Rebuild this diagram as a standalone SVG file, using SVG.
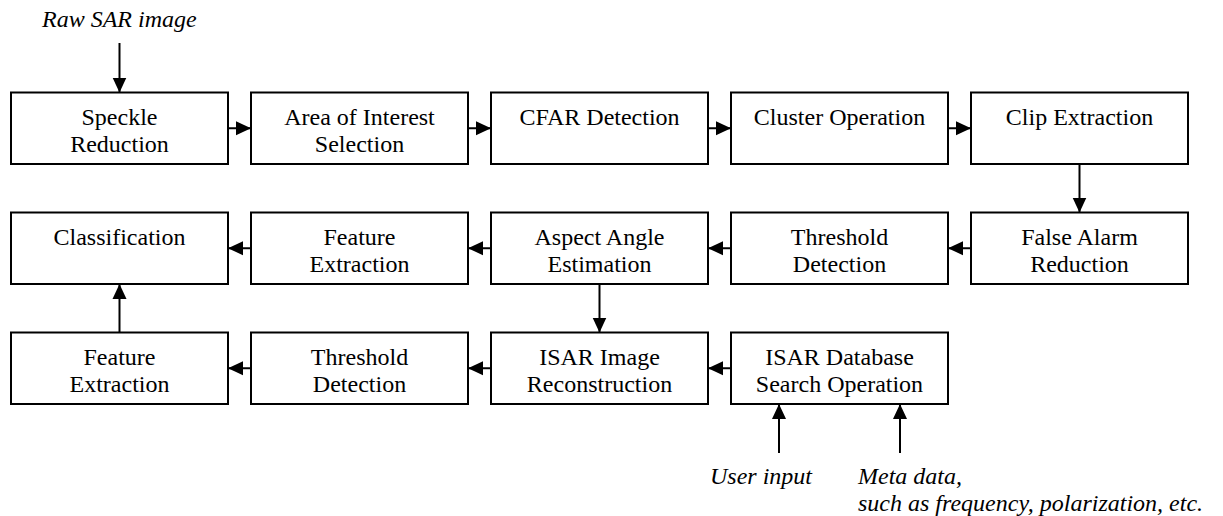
<svg xmlns="http://www.w3.org/2000/svg" width="1223" height="516" viewBox="0 0 1223 516">
<style>
.box{fill:#fff;stroke:#000;stroke-width:2}
text{font-family:'Liberation Serif', serif;font-size:24px;fill:#000}
.t{text-anchor:middle}
.i{font-style:italic}
.c{stroke:#000;stroke-width:2;fill:none;marker-end:url(#ah)}
</style>
<defs>
<marker id="ah" markerUnits="userSpaceOnUse" markerWidth="16" markerHeight="16" refX="15" refY="8" orient="auto" viewBox="0 0 16 16">
<path d="M0,1 L15,8 L0,15 Z" fill="#000"/>
</marker>
</defs>
<rect width="1223" height="516" fill="#fff"/>
<g id="connectors">
<line class="c" x1="119.5" y1="43" x2="119.5" y2="92.5"/>
<line class="c" x1="228" y1="128.25" x2="251" y2="128.25"/>
<line class="c" x1="468" y1="128.25" x2="491" y2="128.25"/>
<line class="c" x1="708" y1="128.25" x2="731" y2="128.25"/>
<line class="c" x1="948" y1="128.25" x2="971" y2="128.25"/>
<line class="c" x1="1079.5" y1="164" x2="1079.5" y2="212.5"/>
<line class="c" x1="971" y1="248.25" x2="948" y2="248.25"/>
<line class="c" x1="731" y1="248.25" x2="708" y2="248.25"/>
<line class="c" x1="491" y1="248.25" x2="468" y2="248.25"/>
<line class="c" x1="251" y1="248.25" x2="228" y2="248.25"/>
<line class="c" x1="599.5" y1="284" x2="599.5" y2="332.5"/>
<line class="c" x1="731" y1="368.25" x2="708" y2="368.25"/>
<line class="c" x1="491" y1="368.25" x2="468" y2="368.25"/>
<line class="c" x1="251" y1="368.25" x2="228" y2="368.25"/>
<line class="c" x1="119.5" y1="332.5" x2="119.5" y2="284"/>
<line class="c" x1="779" y1="453" x2="779" y2="404"/>
<line class="c" x1="900" y1="453" x2="900" y2="404"/>
</g>
<g id="speckle"><rect class="box" x="11" y="92.5" width="217" height="71.5"/><text class="t" x="119.5" y="124.5">Speckle</text><text class="t" x="119.5" y="152">Reduction</text></g>
<g id="aoi"><rect class="box" x="251" y="92.5" width="217" height="71.5"/><text class="t" x="359.5" y="124.5">Area of Interest</text><text class="t" x="359.5" y="152">Selection</text></g>
<g id="cfar"><rect class="box" x="491" y="92.5" width="217" height="71.5"/><text class="t" x="599.5" y="124.5">CFAR Detection</text></g>
<g id="cluster"><rect class="box" x="731" y="92.5" width="217" height="71.5"/><text class="t" x="839.5" y="124.5">Cluster Operation</text></g>
<g id="clip"><rect class="box" x="971" y="92.5" width="217" height="71.5"/><text class="t" x="1079.5" y="124.5">Clip Extraction</text></g>
<g id="classification"><rect class="box" x="11" y="212.5" width="217" height="71.5"/><text class="t" x="119.5" y="244.5">Classification</text></g>
<g id="feature1"><rect class="box" x="251" y="212.5" width="217" height="71.5"/><text class="t" x="359.5" y="244.5">Feature</text><text class="t" x="359.5" y="272">Extraction</text></g>
<g id="aspect"><rect class="box" x="491" y="212.5" width="217" height="71.5"/><text class="t" x="599.5" y="244.5">Aspect Angle</text><text class="t" x="599.5" y="272">Estimation</text></g>
<g id="threshold1"><rect class="box" x="731" y="212.5" width="217" height="71.5"/><text class="t" x="839.5" y="244.5">Threshold</text><text class="t" x="839.5" y="272">Detection</text></g>
<g id="falsealarm"><rect class="box" x="971" y="212.5" width="217" height="71.5"/><text class="t" x="1079.5" y="244.5">False Alarm</text><text class="t" x="1079.5" y="272">Reduction</text></g>
<g id="feature2"><rect class="box" x="11" y="332.5" width="217" height="71.5"/><text class="t" x="119.5" y="364.5">Feature</text><text class="t" x="119.5" y="392">Extraction</text></g>
<g id="threshold2"><rect class="box" x="251" y="332.5" width="217" height="71.5"/><text class="t" x="359.5" y="364.5">Threshold</text><text class="t" x="359.5" y="392">Detection</text></g>
<g id="isarimage"><rect class="box" x="491" y="332.5" width="217" height="71.5"/><text class="t" x="599.5" y="364.5">ISAR Image</text><text class="t" x="599.5" y="392">Reconstruction</text></g>
<g id="isardb"><rect class="box" x="731" y="332.5" width="217" height="71.5"/><text class="t" x="839.5" y="364.5">ISAR Database</text><text class="t" x="839.5" y="392">Search Operation</text></g>
<g id="labels">
<text class="i" x="42" y="27">Raw SAR image</text>
<text class="i" x="710" y="484">User input</text>
<text class="i" x="858" y="484">Meta data,</text>
<text class="i" x="858" y="511">such as frequency, polarization, etc.</text>
</g>
</svg>
